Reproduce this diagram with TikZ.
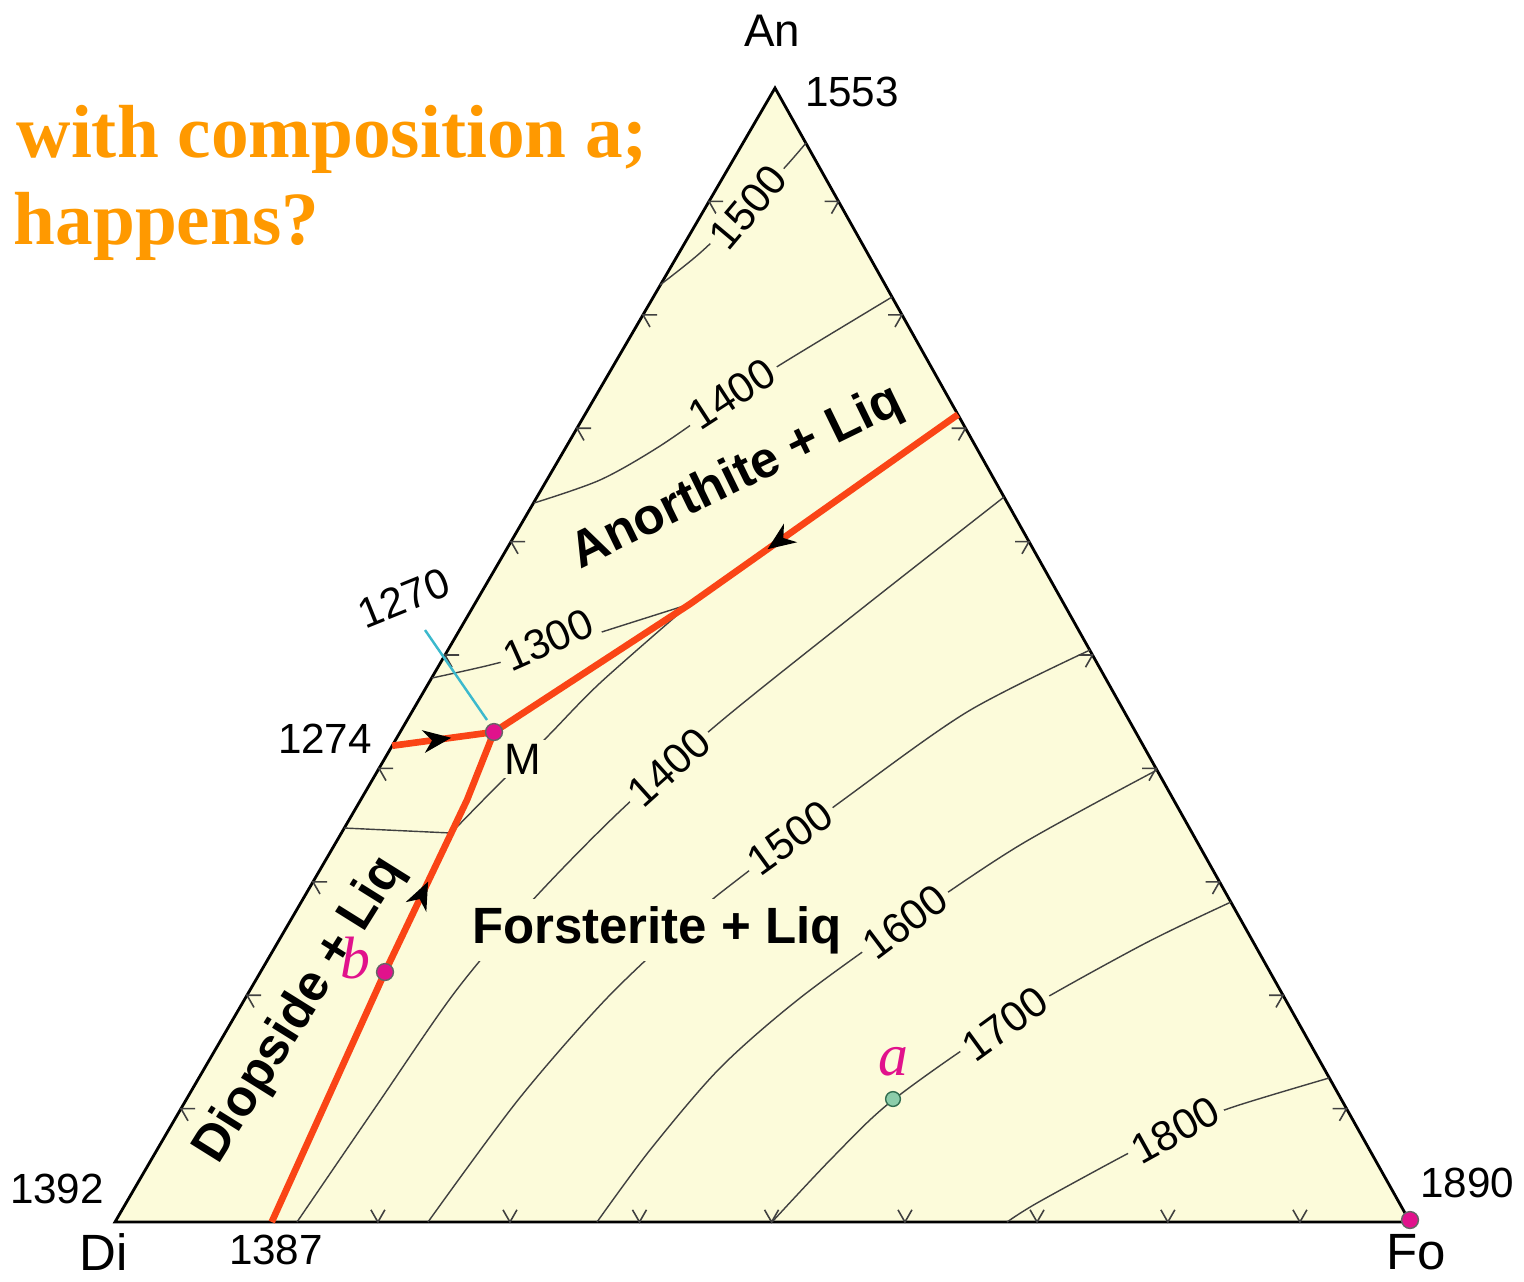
\documentclass[tikz,border=0pt]{standalone}
\usepackage{fontspec}
\setmainfont{Liberation Sans}
\newfontfamily\serifface{Liberation Serif}
\usetikzlibrary{positioning,arrows.meta,calc,decorations.markings}

\definecolor{paper}{RGB}{252,251,218}
\definecolor{lava}{RGB}{250,68,22}
\definecolor{qorange}{RGB}{255,153,0}
\definecolor{pinkdot}{RGB}{225,18,140}
\definecolor{divide}{RGB}{60,185,205}
\definecolor{olivine}{RGB}{140,205,170}
\definecolor{olivdark}{RGB}{50,110,80}

\begin{document}
\begin{tikzpicture}[x=0.01cm, y=-0.01cm,
  every node/.style={font=\fontsize{12}{14}\selectfont, inner sep=1pt},
  side/.style={draw=black, line width=0.8pt, fill=paper, line join=miter},
  iso/.style={black!75, line width=0.4pt},
  tk/.style={black!75, line width=0.45pt},
  lbl/.style={fill=paper, inner sep=1.5pt},
  field/.style={font=\fontsize{14.5}{16}\selectfont\bfseries},
  apex/.style={font=\fontsize{14.5}{16}\selectfont},
  cotectic/.style={lava, line width=1.9pt, line join=round},
  flow/.style={postaction={decorate}, decoration={markings,
    mark=at position #1 with {\arrow[black, line width=0.4pt]{Stealth[length=8pt, width=6.5pt, inset=2.5pt]}}}},
  pnt/.style={circle, draw=black!60, line width=0.4pt, fill=pinkdot, minimum size=4.8pt, inner sep=0pt},
  ptlbl/.style={font=\serifface\itshape\fontsize{17}{17}\selectfont, text=pinkdot, inner sep=0pt},
  question/.style={font=\serifface\bfseries\fontsize{21.4}{25}\selectfont, text=qorange, inner sep=0pt, anchor=base west}
]
\useasboundingbox (0,0) rectangle (1524,1281);

% question text
\node[question] (q1) at (16,157) {with composition a;};
\node[question] (q2) at (13,244) {happens?};

% ternary triangle
\coordinate (An) at (775,88);
\coordinate (Di) at (115,1222);
\coordinate (Fo) at (1410,1222);
\draw[side] (An) -- (Di) -- (Fo) -- cycle;

% ticks along the three sides
\foreach \f in {0.1,0.2,0.3,0.4,0.5,0.6,0.7,0.8,0.9} {
  \draw[tk] ($(An)!\f!(Di)$) ++(14,0) -- ++(-14,0) -- ++(7,12.2);
  \draw[tk] ($(An)!\f!(Fo)$) ++(-14,0) -- ++(14,0) -- ++(-7,12.2);
}
\foreach \f in {0.203,0.305,0.405,0.507,0.610,0.712,0.813,0.915} {
  \draw[tk] ($(Di)!\f!(Fo)$) ++(-7,-12.2) -- ++(7,12.2) -- ++(7,-12.2);
}

% isotherms, anorthite field
\draw[iso] plot[smooth] coordinates {(660,285) (700,253) (748,207) (787,165) (806,143)};
\draw[iso] plot[smooth] coordinates {(534,503) (600,480) (660,446) (732,396) (783,363) (892,297)};
\draw[iso] plot[smooth] coordinates {(432,678) (490,665) (549,649) (608,630) (690,604)};
% isotherm, diopside field
\draw[iso] (344,828) -- (451,833);
% isotherms, forsterite field
\draw[iso] plot[smooth] coordinates {(451,833) (500,783) (547,737) (600,683) (690,604)};
\draw[iso] plot[smooth] coordinates {(297,1222) (377,1105) (455,992) (530,903) (618,813) (720,722) (860,610) (1004,497)};
\draw[iso] plot[smooth] coordinates {(428,1222) (518,1100) (607,998) (697,913) (737,880) (843,800) (967,712) (1090,650)};
\draw[iso] plot[smooth] coordinates {(597,1222) (650,1150) (720,1068) (800,998) (905,922) (1020,845) (1157,770)};
\draw[iso] plot[smooth] coordinates {(772,1222) (833,1157) (893,1100) (1005,1022) (1140,946) (1231,902)};
\draw[iso] plot[smooth] coordinates {(1007,1222) (1037,1203) (1125,1155) (1175,1130) (1233,1107) (1329,1078)};

% cotectic boundaries and the minimum M
\coordinate (e1) at ($(An)!0.288!(Fo)$);
\coordinate (e2) at ($(An)!0.580!(Di)$);
\coordinate (e3) at ($(Di)!0.121!(Fo)$);
\coordinate (m) at (494,732);
\coordinate (k1) at (690,604);
\coordinate (k2) at (467,800);
\coordinate (pb) at (385,972);
\draw[cotectic, flow=0.415] (e1) -- (k1) -- (m);
\draw[cotectic, flow=0.58] (e2) -- (m);
\draw[cotectic, flow=0.696] (e3) -- (pb) -- (k2) -- (m);

% thermal divide
\coordinate (c1) at (425,630);
\coordinate (c2) at (487,720);
\draw[divide, line width=0.7pt] (c1) -- (c2);

% isotherm labels
\node[lbl, rotate=50] (tA15) at (748,207) {1500};
\node[lbl, rotate=33] (tA14) at (732,394) {1400};
\node[lbl, rotate=24] (tA13) at (548,640) {1300};
\node[lbl, rotate=42] (tF14) at (669,767) {1400};
\node[lbl, rotate=36] (tF15) at (790,838) {1500};
\node[lbl, rotate=37] (tF16) at (905,922) {1600};
\node[lbl, rotate=36] (tF17) at (1005,1024) {1700};
\node[lbl, rotate=29] (tF18) at (1175,1130) {1800};

% phase fields
\node[field, rotate=26] (fAn) at (737,478) {Anorthite + Liq};
\node[field, fill=paper, inner sep=2pt] (fFo) at (657,930) {Forsterite + Liq};
\node[field, rotate=58] (fDi) at (300,1010) {Diopside + Liq};

% apices and melting points
\node[font=\fontsize{13}{15}\selectfont] (lAn) at (772,31) {An};
\node[apex] (lDi) at (104,1252) {Di};
\node[apex] (lFo) at (1416,1252) {Fo};
\node (t1553) at (852,92) {1553};
\node (t1392) at (57,1189) {1392};
\node (t1387) at (276,1250) {1387};
\node (t1890) at (1467,1183) {1890};
\node (t1274) at (325,739) {1274};
\node[rotate=22] (t1270) at (404,598) {1270};

% points
\node[pnt] (M) at (m) {};
\node[pnt] (B) at (pb) {};
\node[pnt] (pFo) at (1410,1220) {};
\node[pnt, fill=olivine, draw=olivdark, minimum size=4.2pt] (A) at (893,1099) {};
\node[lbl, inner sep=1pt, font=\fontsize{12.5}{14}\selectfont] (lM) at (523,759) {M};
\node[ptlbl] (lb) at (355,958) {b};
\node[ptlbl] (la) at (893,1062) {a};
\end{tikzpicture}
\end{document}
